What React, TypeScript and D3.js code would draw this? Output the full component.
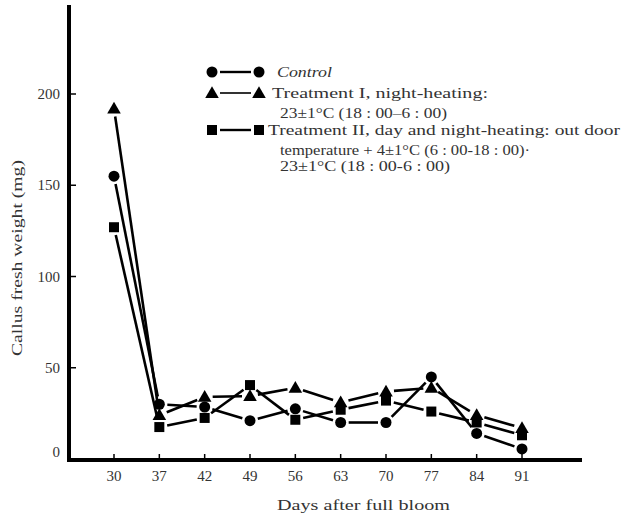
import React from "react";
import * as d3 from "d3";

// days after full bloom
const days = ["30", "37", "42", "49", "56", "63", "70", "77", "84", "91"];
// callus fresh weight (mg)
const control = [155, 30, 28.5, 21, 27.5, 20, 20, 45, 14, 5.5];
const treatment1 = [192, 24, 34, 34.5, 39, 31, 37, 39, 24, 17];
const treatment2 = [127, 17.5, 22.5, 40.5, 21.5, 27, 32, 26, 20, 13];
const yTicks = [0, 50, 100, 150, 200];

const seriesNames = ["control", "treatment1", "treatment2"];
const seriesValues = [control, treatment1, treatment2];
const seriesShapes = ["circle", "triangle", "square"];

const legendLines = [
  ["Control"],
  ["Treatment I, night-heating:", "23\u00b11\u00b0C (18 : 00\u20136 : 00)"],
  [
    "Treatment II, day and night-heating: out door",
    "temperature + 4\u00b11\u00b0C (6 : 00-18 : 00)\u00b7",
    "23\u00b11\u00b0C (18 : 00-6 : 00)",
  ],
];

const FONT = "'Liberation Serif', 'DejaVu Serif', serif";
const INK = "#333";

function Marker({ shape, x, y }: { shape: string; x: number; y: number }) {
  if (shape === "circle") return <circle cx={x} cy={y} r={5.5} fill="#000" />;
  if (shape === "square")
    return <rect x={x - 5} y={y - 5} width={10} height={10} fill="#000" />;
  const tri = d3.symbol().type(d3.symbolTriangle).size(80)();
  return <path d={tri || ""} transform={`translate(${x},${y + 1})`} fill="#000" />;
}

export default function App() {
  const x = d3.scalePoint<string>().domain(days).range([114, 522]);
  const y = d3.scaleLinear().domain([0, 200]).range([459, 94]);
  const gap = 8;

  const segments = (vals: number[]) => {
    const out: { x1: number; y1: number; x2: number; y2: number }[] = [];
    for (let i = 0; i < vals.length - 1; i++) {
      const ax = x(days[i])!, ay = y(vals[i]);
      const bx = x(days[i + 1])!, by = y(vals[i + 1]);
      const len = Math.hypot(bx - ax, by - ay);
      const ux = (bx - ax) / len, uy = (by - ay) / len;
      out.push({ x1: ax + ux * gap, y1: ay + uy * gap, x2: bx - ux * gap, y2: by - uy * gap });
    }
    return out;
  };

  const legendRows = [
    { y: 72, textY: [77], textX: [277], lens: [55] },
    { y: 93, textY: [98, 118], textX: [272, 280], lens: [216, 167] },
    { y: 130, textY: [135, 155, 171], textX: [268, 280, 280], lens: [352, 250, 170] },
  ];

  return (
    <svg
      width={623}
      height={519}
      style={{ position: "absolute", left: 0, top: 0, background: "#fff" }}
      fontFamily={FONT}
    >
      {/* axes */}
      <line x1={69} x2={69} y1={5} y2={462} stroke="#000" strokeWidth={4} />
      <line x1={67} x2={582} y1={460} y2={460} stroke="#000" strokeWidth={4} />
      {yTicks.map((t) => (
        <g key={t}>
          {t > 0 && <line x1={71} x2={76} y1={y(t)} y2={y(t)} stroke="#000" strokeWidth={1.5} />}
          <text x={60} y={t === 0 ? y(t) - 2 : y(t) + 5} textAnchor="end" fontSize={15} fill={INK}>
            {t}
          </text>
        </g>
      ))}
      {days.map((d) => (
        <g key={d}>
          <line x1={x(d)} x2={x(d)} y1={458} y2={454} stroke="#000" strokeWidth={1.5} />
          <text x={x(d)} y={481} textAnchor="middle" fontSize={15} fill={INK}>
            {d}
          </text>
        </g>
      ))}
      <text
        transform="translate(22,258) rotate(-90)"
        textAnchor="middle"
        fontSize={15}
        fill={INK}
        textLength={196}
        lengthAdjust="spacingAndGlyphs"
      >
        Callus fresh weight (mg)
      </text>
      <text x={277} y={510} fontSize={15} fill={INK} textLength={173} lengthAdjust="spacingAndGlyphs">
        Days after full bloom
      </text>

      {/* series */}
      {seriesValues.map((vals, si) => (
        <g key={seriesNames[si]}>
          {segments(vals).map((s, i) => (
            <line key={i} {...s} stroke="#000" strokeWidth={2.6} />
          ))}
          {vals.map((v, i) => (
            <Marker key={i} shape={seriesShapes[si]} x={x(days[i])!} y={y(v)} />
          ))}
        </g>
      ))}

      {/* legend */}
      {legendRows.map((row, ri) => (
        <g key={ri}>
          <Marker shape={seriesShapes[ri]} x={212} y={row.y} />
          <line x1={220} x2={251} y1={row.y} y2={row.y} stroke="#000" strokeWidth={ri === 1 ? 1.6 : 2.4} />
          <Marker shape={seriesShapes[ri]} x={259} y={row.y} />
          {legendLines[ri].map((txt, li) => (
            <text
              key={li}
              x={row.textX[li]}
              y={row.textY[li]}
              fontSize={14}
              fill={INK}
              fontStyle={ri === 0 ? "italic" : "normal"}
              textLength={row.lens[li]}
              lengthAdjust="spacingAndGlyphs"
            >
              {txt}
            </text>
          ))}
        </g>
      ))}
    </svg>
  );
}
